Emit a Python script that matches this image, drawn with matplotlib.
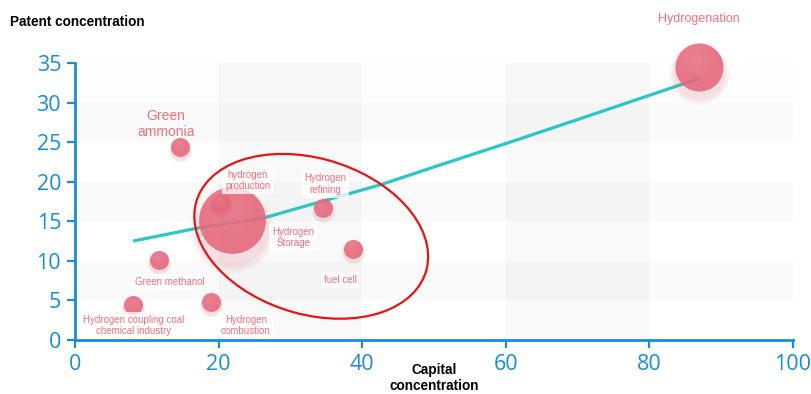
import numpy as np
import matplotlib.pyplot as plt
from matplotlib.patches import Ellipse
from matplotlib.transforms import offset_copy

# bubble data
names = ['Hydrogenation', 'Green\nammonia', 'hydrogen\nproduction', 'Hydrogen\nStorage',
         'Hydrogen\nrefining', 'fuel cell', 'Green methanol',
         'Hydrogen coupling coal\nchemical industry', 'Hydrogen\ncombustion']
capital = [86.9, 14.6, 20.3, 21.9, 34.5, 38.7, 11.7, 8.1, 18.9]
patent = [34.5, 24.4, 17.3, 15.2, 16.7, 11.5, 10.1, 4.4, 4.8]
weight = [6.4, 1, 1, 12.4, 1, 1, 1, 1, 1]

# trend line
trend_x = [8.1, 17.4, 26.2, 35.1, 42.5, 50.8, 60.6, 73.1, 86.8]
trend_y = [12.5, 14.2, 15.4, 17.7, 19.6, 22.1, 25.0, 28.8, 33.0]

xticks = [0, 20, 40, 60, 80, 100]
yticks = [0, 5, 10, 15, 20, 25, 30, 35]

# label layout (data coords) and font sizes
lab_pos = [(86.9, 40.6), (12.7, 27.3), (24.1, 20.2), (30.4, 13.0), (34.8, 19.7),
           (36.9, 7.6), (13.2, 7.3), (8.1, 1.8), (23.8, 1.8)]
lab_fs = [9, 10, 7, 7, 7, 7, 7, 7, 7]

blue = '#1a8cd8'
pink = '#f0707e'

fig = plt.figure(figsize=(8.12, 3.94), dpi=100)
ax = fig.add_axes([75/812, 54/394, 718/812, 277/394])
ax.set_xlim(0, 100)
ax.set_ylim(0, 35)

# background bands
for x0 in (20, 60):
    ax.axvspan(x0, x0 + 20, color='k', alpha=0.022, lw=0, zorder=0)
for y0 in (5, 15, 25):
    ax.axhspan(y0, y0 + 5, color='k', alpha=0.018, lw=0, zorder=0)
ax.axhspan(30, 35, color='k', alpha=0.008, lw=0, zorder=0)

ax.plot(trend_x, trend_y, color='#2cc6c6', lw=2.3, zorder=2, solid_capstyle='butt')

base = 187
order = np.argsort(weight)[::-1]
for z, i in enumerate(order):
    x, y, w = capital[i], patent[i], weight[i]
    s = base * w
    r = np.sqrt(s) / 2
    zb = 3 + z * 0.01
    # soft shadow
    tr = offset_copy(ax.transData, fig=fig, x=0, y=-r * 0.3, units='points')
    for k in range(6):
        ax.scatter([x], [y], s=s * (1.1 + 0.1 * k), color='#e07080', alpha=0.035,
                   lw=0, transform=tr, zorder=zb, clip_on=False)
    ax.scatter([x], [y], s=s, color='#e6677a', alpha=0.88, lw=0, zorder=zb + 0.002,
               clip_on=False)
    # gentle highlight
    tr = offset_copy(ax.transData, fig=fig, x=-r * 0.15, y=r * 0.3, units='points')
    for k in range(8):
        f = 0.8 - 0.08 * k
        ax.scatter([x], [y], s=s * f * f, color='#f3a0aa', alpha=0.04, lw=0,
                   transform=tr, zorder=zb + 0.004, clip_on=False)

for name, (lx, ly), fs in zip(names, lab_pos, lab_fs):
    bb = None
    if fs < 9:
        bb = dict(boxstyle='square,pad=0.3', fc='white', ec='none', alpha=0.75)
    ax.text(lx, ly, name, ha='center', va='center', fontsize=fs, color=pink,
            family='Liberation Sans', linespacing=1.15, bbox=bb, zorder=6, clip_on=False)

ax.add_patch(Ellipse((32.9, 13.1), 33.2, 19.8, angle=-14, fill=False,
                     ec='#e81414', lw=1.6, zorder=7))

for sp in ('top', 'right'):
    ax.spines[sp].set_visible(False)
for sp in ('left', 'bottom'):
    ax.spines[sp].set_color(blue)
    ax.spines[sp].set_linewidth(2)

ax.set_xticks(xticks)
ax.set_yticks(yticks)
ax.tick_params(axis='both', colors=blue, width=1.6, length=6, labelsize=15.5, pad=4)
for lab in ax.get_xticklabels() + ax.get_yticklabels():
    lab.set_family('Open Sans')
    lab.set_color(blue)

fig.text(10/812, 1 - 22/394, 'Patent concentration', fontsize=9.8, fontweight='bold',
         family='Liberation Sans', ha='left', va='center')
fig.text(434/812, 1 - 378/394, 'Capital\nconcentration', fontsize=9.8, fontweight='bold',
         family='Liberation Sans', ha='center', va='center', linespacing=1.2)

fig.savefig('out.png', dpi=100)
